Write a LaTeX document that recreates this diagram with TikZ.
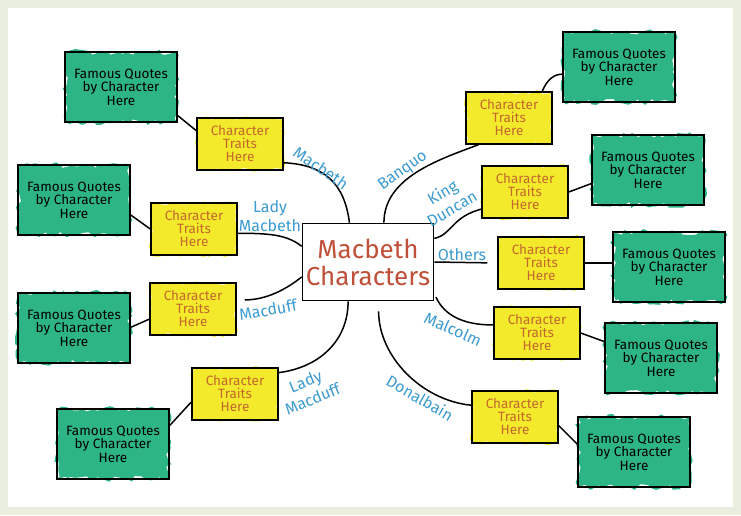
\documentclass[tikz,border=0pt]{standalone}
\usepackage{fontspec}
\setmainfont{Fira Sans}
\usepackage{tikz}
\usetikzlibrary{positioning, calc, decorations.pathmorphing}
\definecolor{PageGrey}{HTML}{E9EEE0}
\definecolor{QuoteGreen}{HTML}{2DB585}
\definecolor{TraitYellow}{HTML}{F3EA2C}
\definecolor{TraitBrown}{HTML}{C4682C}
\definecolor{TitleRed}{HTML}{C0503A}
\definecolor{LinkBlue}{HTML}{3C9BD0}

\begin{document}
\begin{tikzpicture}[x=1pt, y=-1pt,
    traitbox/.style={draw=black, line width=1.5pt, minimum width=86pt, minimum height=52pt,
        inner sep=0pt, align=center, text=TraitBrown, font=\fontsize{13.5}{13}\selectfont,
        preaction={fill=TraitYellow, decorate,
            decoration={random steps, segment length=4pt, amplitude=2pt}}},
    quotebox/.style={draw=black, line width=1.6pt, minimum width=112pt, minimum height=70pt,
        inner sep=0pt, align=center, text=black, font=\fontsize{13.5}{13.5}\selectfont,
        preaction={fill=QuoteGreen, decorate,
            decoration={random steps, segment length=5pt, amplitude=3pt}}},
    who/.style={text=LinkBlue, align=center, font=\fontsize{16}{19}\selectfont},
    link/.style={line width=1.5pt, black}]
    % Page
    \fill[PageGrey] (0,0) rectangle (741,515);
    \fill[white] (8,8) rectangle (733,507);

    % Nodes
    \node (mc) [draw, line width=1.6pt, minimum width=130pt, minimum height=77pt,
        align=center, text=TitleRed, font=\fontsize{26}{27}\selectfont] at (368,262)
        {Macbeth\\Characters};

    \node (t1) [traitbox] at (240,144) {Character\\Traits\\Here};
    \node (t2) [traitbox] at (194,229) {Character\\Traits\\Here};
    \node (t3) [traitbox] at (193,309) {Character\\Traits\\Here};
    \node (t4) [traitbox] at (235,394) {Character\\Traits\\Here};
    \node (t5) [traitbox] at (509,118) {Character\\Traits\\Here};
    \node (t6) [traitbox] at (525,192) {Character\\Traits\\Here};
    \node (t7) [traitbox] at (541,263) {Character\\Traits\\Here};
    \node (t8) [traitbox] at (537,333) {Character\\Traits\\Here};
    \node (t9) [traitbox] at (515,417) {Character\\Traits\\Here};

    \node (q1) [quotebox] at (121,87) {Famous Quotes\\by Character\\Here};
    \node (q2) [quotebox] at (74,200) {Famous Quotes\\by Character\\Here};
    \node (q3) [quotebox] at (74,328) {Famous Quotes\\by Character\\Here};
    \node (q4) [quotebox] at (113,444) {Famous Quotes\\by Character\\Here};
    \node (q5) [quotebox] at (619,67) {Famous Quotes\\by Character\\Here};
    \node (q6) [quotebox] at (648,170) {Famous Quotes\\by Character\\Here};
    \node (q7) [quotebox] at (669,267) {Famous Quotes\\by Character\\Here};
    \node (q8) [quotebox] at (661,358) {Famous Quotes\\by Character\\Here};
    \node (q9) [quotebox] at (634,452) {Famous Quotes\\by Character\\Here};

    % Paths to the traits
    \draw[link] ($(mc.north west)!.36!(mc.north east)$) .. controls +(-5,-40) and +(40,2) ..
        ($(t1.north east)!.85!(t1.south east)$);
    \draw[link] ($(mc.north west)!.3!(mc.south west)$) .. controls +(-15,-12) and +(30,0) ..
        ($(t2.north east)!.58!(t2.south east)$);
    \draw[link, shorten >=8pt] ($(mc.north west)!.69!(mc.south west)$) .. controls +(-15,12) and +(30,0) ..
        ($(t3.north east)!.33!(t3.south east)$);
    \draw[link] ($(mc.south west)!.35!(mc.south east)$) .. controls +(0,40) and +(40,-5) ..
        ($(t4.north east)!.1!(t4.south east)$);
    \draw[link] ($(mc.north west)!.62!(mc.north east)$) .. controls +(0,-45) and +(-40,15) ..
        ($(t5.south west)!.15!(t5.south east)$);
    \draw[link] ($(mc.north east)!.2!(mc.south east)$) .. controls +(18,-4) and +(-30,8) ..
        ($(t6.north west)!.82!(t6.south west)$);
    \draw[link, shorten >=10pt] (mc.east) -- (t7.west);
    \draw[link, shorten <=4pt] ($(mc.north east)!.9!(mc.south east)$) .. controls +(10,22) and +(-30,0) ..
        ($(t8.north west)!.35!(t8.south west)$);
    \draw[link, shorten <=10pt] ($(mc.south west)!.58!(mc.south east)$) .. controls +(0,55) and +(-50,-5) ..
        ($(t9.north west)!.28!(t9.south west)$);

    % Paths to the quotes
    \draw[link] ($(q1.north east)!.9!(q1.south east)$) -- ($(t1.north west)!.25!(t1.south west)$);
    \draw[link] ($(q2.north east)!.71!(q2.south east)$) -- (t2.west);
    \draw[link] ($(q3.north east)!.49!(q3.south east)$) -- ($(t3.north west)!.69!(t3.south west)$);
    \draw[link] ($(q4.north east)!.24!(q4.south east)$) -- ($(t4.north west)!.65!(t4.south west)$);
    \draw[link] ($(t5.north west)!.88!(t5.north east)$) .. controls +(5,-12) and +(-8,0) ..
        ($(q5.north west)!.6!(q5.south west)$);
    \draw[link] (t6.east) -- ($(q6.north west)!.69!(q6.south west)$);
    \draw[link] (t7.east) -- (q7.west |- t7.east);
    \draw[link] (t8.east) -- ($(q8.north west)!.27!(q8.south west)$);
    \draw[link] ($(t9.north east)!.66!(t9.south east)$) -- ($(q9.north west)!.39!(q9.south west)$);

    % Character names
    \node (nmacbeth) [who, rotate=-34] at (321,168) {Macbeth};
    \node (nladymb) [who] at (270,216) {Lady\\Macbeth};
    \node (nmacduff) [who, rotate=10] at (268,310) {Macduff};
    \node (nladymd) [who, rotate=22] at (309,390) {Lady\\Macduff};
    \node (nbanquo) [who, rotate=36] at (403,171) {Banquo};
    \node (nduncan) [who, rotate=30] at (447,200) {King\\Duncan};
    \node (nothers) [who] at (462,255) {Others};
    \node (nmalcolm) [who, rotate=-24] at (453,329) {Malcolm};
    \node (ndonal) [who, rotate=-30] at (420,398) {Donalbain};
\end{tikzpicture}
\end{document}
